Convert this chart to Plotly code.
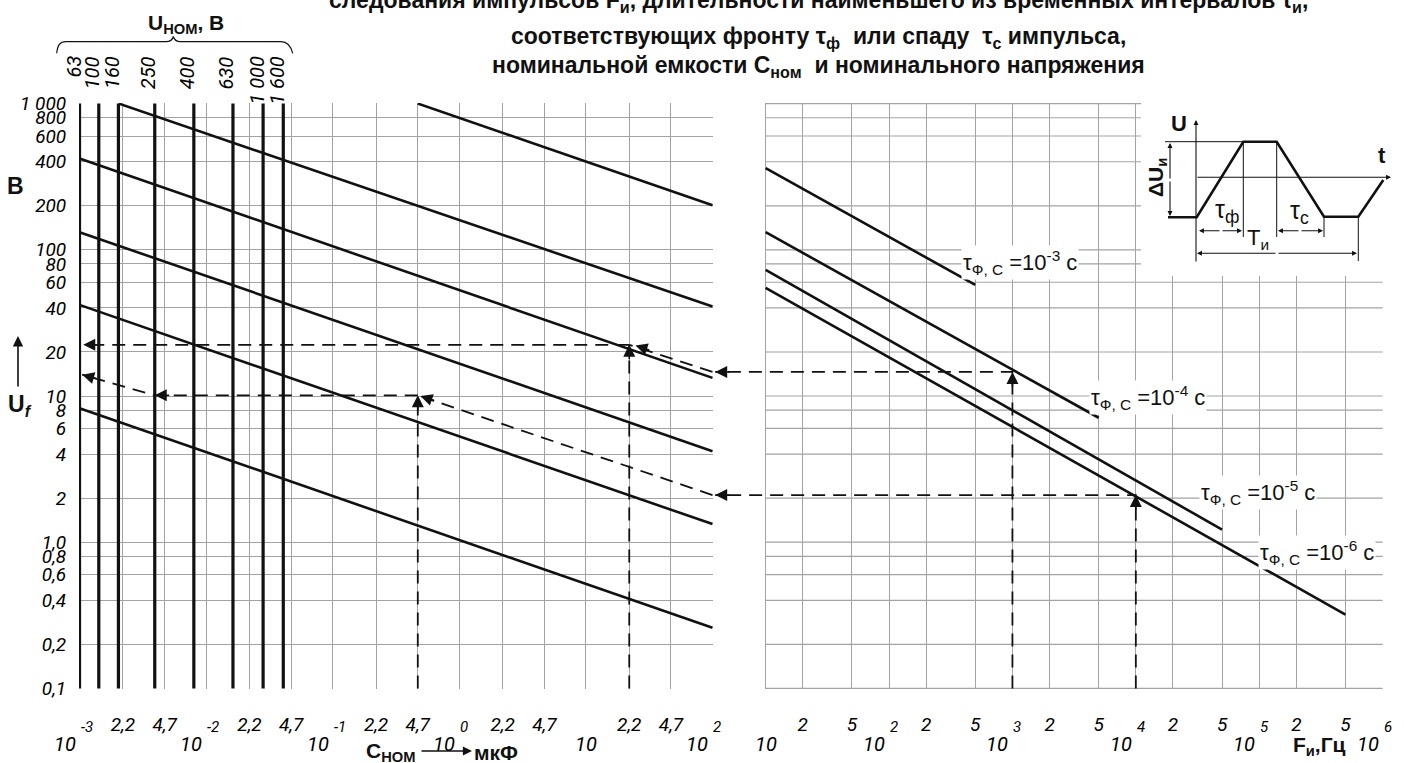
import numpy as np
import plotly.graph_objects as go

# ---------------- data ----------------
C_GRID = [0.001, 0.0022, 0.0047, 0.01, 0.022, 0.047, 0.1, 0.22, 0.47, 1, 2.2, 4.7, 10, 22, 47, 100]
C_GRID_TEXT = ["", "2,2", "4,7", "", "2,2", "4,7", "", "2,2", "4,7", "", "2,2", "4,7", "", "2,2", "4,7", ""]
C_DECADES = [0.001, 0.01, 0.1, 1, 10, 100]
C_DECADE_EXP = ["-3", "-2", "-1", "0", "", "2"]

F_GRID = [10, 20, 50, 100, 200, 500, 1e3, 2e3, 5e3, 1e4, 2e4, 5e4, 1e5, 2e5, 5e5, 1e6]
F_GRID_TEXT = ["", "2", "5", "", "2", "5", "", "2", "5", "", "2", "5", "", "2", "5", ""]
F_DECADES = [10, 1e2, 1e3, 1e4, 1e5, 1e6]
F_DECADE_EXP = ["", "2", "3", "4", "5", "6"]

U_GRID = [0.1, 0.2, 0.4, 0.6, 0.8, 1, 2, 4, 6, 8, 10, 20, 40, 60, 80, 100, 200, 400, 600, 800, 1000]
U_GRID_TEXT = ["0,1", "0,2", "0,4", "0,6", "0,8", "1,0", "2", "4", "6", "8", "10", "20", "40", "60",
               "80", "100", "200", "400", "600", "800", "1 000"]

# nominal voltage lines (position on the capacitance axis)
U_NOM_TEXT = ["63", "100", "160", "250", "400", "630", "1 000", "1 600"]
U_NOM_C = [1.0e-3, 1.42e-3, 2.03e-3, 3.93e-3, 8.0e-3, 1.63e-2, 2.82e-2, 4.07e-2]

# family of lines in the left panel (C, U) start -> end
FAM_C0 = [0.47, 2.04e-3, 1e-3, 1e-3, 1e-3, 1e-3]
FAM_U0 = [1000, 1000, 421, 132, 42, 8.25]
FAM_C1 = [100, 100, 100, 100, 100, 100]
FAM_U1 = [202, 40.9, 13.3, 4.19, 1.33, 0.26]

# tau lines in the right panel (F, U) start -> end
TAU_EXP = ["-3", "-4", "-5", "-6"]
TAU_F0 = [10, 10, 10, 10]
TAU_U0 = [362, 132, 72.8, 54.9]
TAU_F1 = [500, 5e3, 5e4, 5e5]
TAU_U1 = [57.5, 7.1, 1.22, 0.32]

# worked examples (dashed)
EX_F = [1e3, 1e4]          # pulse frequency
EX_UF = [14.6, 2.1]        # value read on the tau line
EX_C = [22, 0.47]          # nominal capacitance
EX_UC = [22.4, 10.1]       # value read at the capacitance
EX_CLEFT = [1.07e-3, 3.93e-3]   # where the horizontal leaves off
EX2_CEND = 1.05e-3
EX2_UEND = 14.0
GAP_F = 3.9                # arrow tip in the gap between panels

# ---------------- layout geometry ----------------
W, H = 1404, 763
L, R, T, B = 79, 21, 103, 74
PW, PH = W - L - R, H - T - B
X1_END = 713
X2_START = 714
XR1 = [-3.004, 2.004]
YR = [-1.004, 3.004]
K2 = 123.4
XR2 = [6.003 - (W - R - X2_START) / K2, 6.003]
K1 = (X1_END - L) / (XR1[1] - XR1[0])
KY = PH / (YR[1] - YR[0])


def px(x):
    return (x - L) / PW


def py(y):
    return (H - B - y) / PH


GRID = "#a3a3a3"
ITAL = "Roboto, Liberation Sans, sans-serif"
SANS = "Liberation Sans, Arial, sans-serif"
TICKFONT = dict(family=ITAL, size=19, color="black")


def it(s):
    return "<i>" + s + "</i>" if s else ""


fig = go.Figure()

# right panel horizontal grid
gx, gy = [], []
for u in U_GRID:
    gx += [10, 1e6, None]
    gy += [u, u, None]
fig.add_trace(go.Scatter(x=gx, y=gy, xaxis="x2", yaxis="y2", mode="lines",
                         line=dict(color=GRID, width=1.2), hoverinfo="skip", showlegend=False))

# nominal voltage verticals
vx, vy = [], []
for c in U_NOM_C:
    vx += [c, c, None]
    vy += [U_GRID[0], U_GRID[-1], None]
fig.add_trace(go.Scatter(x=vx, y=vy, mode="lines", line=dict(color="#111", width=3.2),
                         hoverinfo="skip", showlegend=False))

# family lines
fx, fy = [], []
for c0, u0, c1, u1 in zip(FAM_C0, FAM_U0, FAM_C1, FAM_U1):
    fx += [c0, c1, None]
    fy += [u0, u1, None]
fig.add_trace(go.Scatter(x=fx, y=fy, mode="lines", line=dict(color="#111", width=2.6),
                         hoverinfo="skip", showlegend=False))

# tau lines
tx, ty = [], []
for f0, u0, f1, u1 in zip(TAU_F0, TAU_U0, TAU_F1, TAU_U1):
    tx += [f0, f1, None]
    ty += [u0, u1, None]
fig.add_trace(go.Scatter(x=tx, y=ty, xaxis="x2", yaxis="y2", mode="lines",
                         line=dict(color="#111", width=2.6), hoverinfo="skip", showlegend=False))

DASH = dict(color="#111", width=1.8, dash="13px,8px")
for f, u in zip(EX_F, EX_UF):
    fig.add_trace(go.Scatter(x=[f, f, GAP_F], y=[U_GRID[0], u, u], xaxis="x2", yaxis="y2",
                             mode="lines", line=DASH, hoverinfo="skip", showlegend=False))
# example 1
fig.add_trace(go.Scatter(x=[C_GRID[-1], EX_C[0]], y=[EX_UF[0], EX_UC[0]], mode="lines",
                         line=DASH, hoverinfo="skip", showlegend=False))
fig.add_trace(go.Scatter(x=[EX_C[0], EX_C[0]], y=[U_GRID[0], EX_UC[0]], mode="lines",
                         line=DASH, hoverinfo="skip", showlegend=False))
fig.add_trace(go.Scatter(x=[EX_C[0], EX_CLEFT[0]], y=[EX_UC[0], EX_UC[0]], mode="lines",
                         line=DASH, hoverinfo="skip", showlegend=False))
# example 2
fig.add_trace(go.Scatter(x=[C_GRID[-1], EX_C[1]], y=[EX_UF[1], EX_UC[1]], mode="lines",
                         line=DASH, hoverinfo="skip", showlegend=False))
fig.add_trace(go.Scatter(x=[EX_C[1], EX_C[1]], y=[U_GRID[0], EX_UC[1]], mode="lines",
                         line=DASH, hoverinfo="skip", showlegend=False))
fig.add_trace(go.Scatter(x=[EX_C[1], EX_CLEFT[1], EX2_CEND], y=[EX_UC[1], EX_UC[1], EX2_UEND],
                         mode="lines", line=DASH, hoverinfo="skip", showlegend=False))

ann = []
shapes = []


def text(x, y, s, font, angle=0, **kw):
    d = dict(x=px(x), y=py(y), xref="paper", yref="paper", text=s, showarrow=False,
             xanchor="center", yanchor="middle", textangle=angle, font=font)
    d.update(kw)
    ann.append(d)


def data_arrow(xref, yref, x, y, ax, ay):
    ann.append(dict(x=np.log10(x), y=np.log10(y), xref=xref, yref=yref, ax=ax, ay=ay,
                    axref="pixel", ayref="pixel", showarrow=True, arrowhead=2, arrowsize=1.5,
                    arrowwidth=1.6, arrowcolor="#111", text="", standoff=0))


def slant(c_head, u_head, c_tail, u_tail, length=16):
    dx = np.log10(c_tail / c_head) * K1
    dy = -np.log10(u_tail / u_head) * KY
    n = np.hypot(dx, dy)
    return dx / n * length, dy / n * length


for f, u in zip(EX_F, EX_UF):
    data_arrow("x2", "y2", f, u, 0, 16)
    data_arrow("x2", "y2", GAP_F, u, 16, 0)
a = slant(EX_C[0], EX_UC[0], C_GRID[-1], EX_UF[0])
data_arrow("x", "y", EX_C[0] * 1.12, EX_UC[0] * 0.99, a[0], a[1])
data_arrow("x", "y", EX_C[0], EX_UC[0], 0, 16)
data_arrow("x", "y", EX_CLEFT[0], EX_UC[0], 16, 0)
a = slant(EX_C[1], EX_UC[1], C_GRID[-1], EX_UF[1])
data_arrow("x", "y", EX_C[1] * 1.05, EX_UC[1] * 0.99, a[0], a[1])
data_arrow("x", "y", EX_C[1], EX_UC[1], 0, 16)
data_arrow("x", "y", EX_CLEFT[1], EX_UC[1], 16, 0)
a = slant(EX2_CEND, EX2_UEND, EX_CLEFT[1], EX_UC[1])
data_arrow("x", "y", EX2_CEND, EX2_UEND, a[0], a[1])

# decade labels
BASE = dict(family=ITAL, size=20, color="black")
SUP = dict(family=ITAL, size=15, color="black")
for xref, decs, exps in (("x", C_DECADES, C_DECADE_EXP), ("x2", F_DECADES, F_DECADE_EXP)):
    for d, e in zip(decs, exps):
        if e == "":
            ann.append(dict(x=np.log10(d), y=0, xref=xref, yref="paper", text=it("10"), showarrow=False,
                            xanchor="center", yanchor="middle", yshift=-55, font=BASE))
        else:
            ann.append(dict(x=np.log10(d), y=0, xref=xref, yref="paper", text=it("10"), showarrow=False,
                            xanchor="right", yanchor="middle", yshift=-55, xshift=-2, font=BASE))
            ann.append(dict(x=np.log10(d), y=0, xref=xref, yref="paper", text=it(e), showarrow=False,
                            xanchor="left", yanchor="middle", yshift=-38, xshift=-1, font=SUP))

# nominal voltage labels (rotated)
for c, t in zip(U_NOM_C, U_NOM_TEXT):
    ann.append(dict(x=np.log10(c), y=py(54), xref="x", yref="paper", text=it(t), textangle=-90,
                    showarrow=False, xanchor="center", yanchor="top", xshift=-6,
                    font=dict(family=ITAL, size=20, color="black")))

# tau labels
TAU_POS = [(1020, 262), (1148, 397), (1258, 492), (1317, 552)]
for e, (x, y) in zip(TAU_EXP, TAU_POS):
    text(x, y, "τ<sub>Ф, С</sub> =10<sup>" + e + "</sup> с", dict(family=SANS, size=22, color="#111"),
         bgcolor="white", borderpad=1)

TITLE = dict(family=SANS, size=23, color="#111", weight="bold")
text(818, 1, "следования импульсов F<sub>и</sub>, длительности наименьшего из временных интервалов τ<sub>и</sub>,", TITLE)
text(818, 37, "соответствующих фронту τ<sub>ф</sub>  или спаду  τ<sub>с</sub> импульса,", TITLE)
text(818, 66, "номинальной емкости C<sub>ном</sub>  и номинального напряжения", TITLE)

BOLD = dict(family=SANS, size=21, color="#111", weight="bold")
text(186, 24, "U<sub>НОМ</sub>, В", BOLD)
text(15, 186, "В", dict(family=SANS, size=23, color="#111", weight="bold"))
text(20, 405, "U<sub><i>f</i></sub>", dict(family=SANS, size=23, color="#111", weight="bold"))
ann.append(dict(x=px(18), y=py(336), xref="paper", yref="paper", ax=0, ay=52, axref="pixel",
                ayref="pixel", showarrow=True, arrowhead=2, arrowsize=1.3, arrowwidth=1.6,
                arrowcolor="#111", text=""))
text(390, 752, "C<sub>НОМ</sub>", BOLD)
ann.append(dict(x=px(472), y=py(751), xref="paper", yref="paper", ax=-52, ay=0, axref="pixel",
                ayref="pixel", showarrow=True, arrowhead=2, arrowsize=1.3, arrowwidth=1.4,
                arrowcolor="#111", text=""))
text(496, 752, "мкФ", BOLD)
text(1319, 746, "F<sub>и</sub>,Гц", BOLD)

# brace above nominal voltage labels
pts = [(56.7, 53.3), (57.5, 45), (60, 41.7), (66, 41.7), (166, 41.7), (170.5, 41.7), (172.5, 40),
       (173.3, 36.5), (174.2, 40), (176.2, 41.7), (180.6, 41.7), (281, 41.7), (287, 41.7), (290.5, 45),
       (292.7, 53.3)]
P = [(px(a), py(b)) for a, b in pts]
path = ("M {0[0]},{0[1]} C {1[0]},{1[1]} {2[0]},{2[1]} {3[0]},{3[1]} L {4[0]},{4[1]} "
        "C {5[0]},{5[1]} {6[0]},{6[1]} {7[0]},{7[1]} C {8[0]},{8[1]} {9[0]},{9[1]} {10[0]},{10[1]} "
        "L {11[0]},{11[1]} C {12[0]},{12[1]} {13[0]},{13[1]} {14[0]},{14[1]}").format(*P)
shapes.append(dict(type="path", path=path, xref="paper", yref="paper",
                   line=dict(color="#111", width=1.2)))

# ---------------- pulse inset ----------------
shapes.append(dict(type="rect", xref="paper", yref="paper", x0=px(1141), x1=px(1404), y0=py(100),
                   y1=py(276), fillcolor="white", line=dict(width=0), layer="above"))


def seg(x0, y0, x1, y1, w=1.0):
    shapes.append(dict(type="line", xref="paper", yref="paper", x0=px(x0), y0=py(y0), x1=px(x1),
                       y1=py(y1), line=dict(color="#111", width=w), layer="above"))


def parrow(hx, hy, tx_, ty_, size=0.9):
    ann.append(dict(x=px(hx), y=py(hy), xref="paper", yref="paper", ax=tx_ - hx, ay=ty_ - hy,
                    axref="pixel", ayref="pixel", showarrow=True, arrowhead=2, arrowsize=size,
                    arrowwidth=1.1, arrowcolor="#111", text="", standoff=0))


pulse = [(1168, 217.3), (1196.7, 217.3), (1243.3, 141.7), (1276.7, 141.7), (1324, 216.7), (1358.3, 216.7),
         (1383.3, 180)]
pp = "M " + " L ".join("{},{}".format(px(a), py(b)) for a, b in pulse)
shapes.append(dict(type="path", path=pp, xref="paper", yref="paper", line=dict(color="#111", width=2.6),
                   layer="above"))
seg(1165, 141.7, 1243.3, 141.7)
seg(1243.3, 141.7, 1243.3, 237)
seg(1276.7, 141.7, 1276.7, 237)
seg(1324, 216.7, 1324, 237)
seg(1358.3, 216.7, 1358.3, 261)
parrow(1196, 120, 1196, 263)          # U axis
parrow(1391, 177.3, 1196, 177.3)      # t axis
parrow(1170, 143, 1170, 180)          # delta U
parrow(1170, 216, 1170, 180)
parrow(1199, 230.7, 1221, 230.7)      # tau f
parrow(1242, 230.7, 1221, 230.7)
parrow(1278, 230.7, 1300, 230.7)      # tau c
parrow(1323, 230.7, 1300, 230.7)
parrow(1197, 253.3, 1277, 253.3)      # T
parrow(1357, 253.3, 1277, 253.3)

text(1179, 124, "U", dict(family=SANS, size=22, color="#111", weight="bold"))
text(1382, 155, "t", dict(family=SANS, size=22, color="#111", weight="bold"))
text(1157, 178, "ΔU<sub>и</sub>", dict(family=SANS, size=21, color="#111", weight="bold"), angle=-90)
text(1227, 211, "τ<sub>ф</sub>", dict(family=SANS, size=25, color="#111"))
text(1299, 212, "τ<sub>с</sub>", dict(family=SANS, size=25, color="#111"))
text(1258, 239, "T<sub>и</sub>", dict(family=SANS, size=22, color="#111"))

# ---------------- axes ----------------
common = dict(type="log", showgrid=True, gridcolor=GRID, gridwidth=1.2, zeroline=False, showline=False,
              tickfont=TICKFONT, ticks="outside", tickcolor="rgba(0,0,0,0)")
fig.update_layout(
    width=W, height=H, margin=dict(l=L, r=R, t=T, b=B, autoexpand=False),
    paper_bgcolor="white", plot_bgcolor="white", showlegend=False,
    xaxis=dict(common, domain=[0, (X1_END - L) / PW], range=XR1, anchor="y",
               tickmode="array", tickvals=C_GRID, ticktext=[it(s) for s in C_GRID_TEXT], ticklen=18),
    yaxis=dict(common, domain=[0, 1], range=YR, anchor="x",
               tickmode="array", tickvals=U_GRID, ticktext=[it(s) for s in U_GRID_TEXT], ticklen=8),
    xaxis2=dict(common, domain=[(X2_START - L) / PW, 1], range=XR2, anchor="y2",
                tickmode="array", tickvals=F_GRID, ticktext=[it(s) for s in F_GRID_TEXT], ticklen=18),
    yaxis2=dict(common, domain=[0, 1], range=YR, anchor="x2", showgrid=False,
                showticklabels=False, ticks=""),
    annotations=ann, shapes=shapes,
)

fig.write_html("out.html", config={"displayModeBar": False},
               post_script="document.body.style.margin='0px';document.body.style.overflow='hidden';")
